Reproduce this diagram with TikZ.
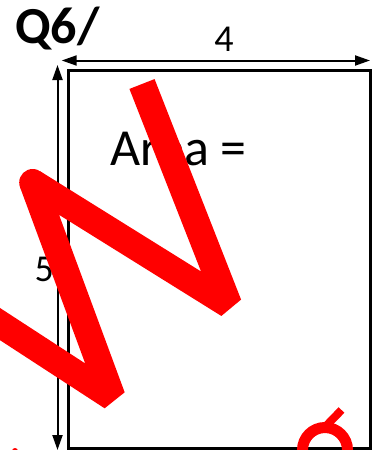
\documentclass[tikz,border=0pt]{standalone}
\usepackage{fontspec}
\setmainfont{Carlito}
\usetikzlibrary{arrows.meta}
\begin{document}
\begin{tikzpicture}[x=1pt,y=-1pt,
  frame/.style={draw=black,line width=3pt},
  dimline/.style={draw=black,line width=2pt,{Triangle[length=15pt,width=10pt]}-{Triangle[length=15pt,width=10pt]}},
  lbl/.style={inner sep=0pt,font=\fontsize{38}{38}\selectfont},
  bigtxt/.style={inner sep=0pt,font=\fontsize{52}{52}\selectfont},
  title/.style={inner sep=0pt,font=\fontsize{52}{52}\selectfont\bfseries},
  ink/.style={draw=red,line width=27pt,line join=bevel,line cap=butt},
  thinink/.style={draw=red,line width=11pt},
]
\useasboundingbox (0,0) rectangle (381,450);
\fill[white] (0,0) rectangle (381,450);
% frame
\coordinate (rtl) at (68.3,70);
\coordinate (rbr) at (370,448.3);
\draw[frame] (rtl) rectangle (rbr);
% dimension arrows
\coordinate (ha) at (61.7,60.5);
\coordinate (hb) at (370,60.5);
\draw[dimline] (ha) -- (hb);
\coordinate (va) at (57.5,65);
\coordinate (vb) at (57.5,450);
\draw[dimline] (va) -- (vb);
% texts
\node[title,anchor=base west] (q) at (15,43.3) {Q6/};
\node[lbl,anchor=base] (w) at (224,51.7) {4};
\node[lbl,anchor=base] (h) at (44.3,281.7) {5};
\node[bigtxt,anchor=base west] (area) at (110.5,165) {Area =};
% red overlay
\begin{scope}
\clip (0,0) rectangle (381,450);
\coordinate (s0) at (-25,307.8);
\coordinate (v1) at (112,397);
\coordinate (v2) at (32.7,182.5);
\coordinate (v3) at (228.5,304.5);
\coordinate (tend) at (142,84);
\draw[ink] (s0) -- (v1) -- (v2) -- (v3) -- (tend);
\fill[red] (v2) circle (13.5);
\coordinate (rc) at (325,450);
\draw[thinink] (rc) circle (22.5);
\coordinate (t0) at (326,426);
\coordinate (t1) at (341.5,410);
\draw[red,line width=8pt] (t0) -- (t1);
\fill[red] (15,451) circle (3);
\end{scope}
\end{tikzpicture}
\end{document}
